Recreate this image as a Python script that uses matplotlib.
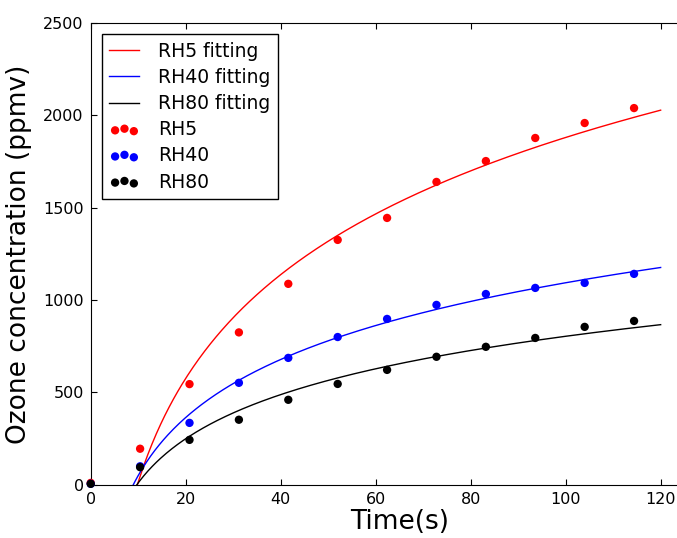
import numpy as np
import matplotlib
matplotlib.use('Agg')
import matplotlib.pyplot as plt

# sampling times (s)
t = [0, 10.4, 20.8, 31.2, 41.6, 52.0, 62.4, 72.8, 83.2, 93.6, 104.0, 114.4]

# measured ozone concentration (ppmv)
rh5 = [10, 195, 545, 825, 1088, 1326, 1445, 1640, 1753, 1878, 1959, 2040]
rh40 = [5, 100, 335, 552, 687, 800, 898, 974, 1033, 1066, 1093, 1142]
rh80 = [5, 95, 243, 352, 460, 546, 622, 693, 747, 795, 855, 887]

series = [('RH5', rh5, 'r'), ('RH40', rh40, 'b'), ('RH80', rh80, 'k')]

fig = plt.figure(figsize=(6.77, 5.38), dpi=100)
# axes run past the right edge of the figure
ax = fig.add_axes([0.134, 0.099, 0.912, 0.858])

tt = np.array(t)
xfit = np.linspace(1, 120, 400)
for name, y, c in series:
    # logarithmic fit y = a*ln(t) + b, skipping t = 0
    a, b = np.polyfit(np.log(tt[1:]), np.array(y)[1:], 1)
    ax.plot(xfit, a * np.log(xfit) + b, color=c, lw=1.0, label=name + ' fitting')

for name, y, c in series:
    ax.scatter(t, y, s=36, color=c, edgecolors='none', label=name, clip_on=False, zorder=3)

ax.set_xlim(0, 130)
ax.set_ylim(0, 2500)
ax.set_xticks([0, 20, 40, 60, 80, 100, 120])
ax.set_yticks([0, 500, 1000, 1500, 2000, 2500])
ax.tick_params(direction='in', top=True, right=True, labelsize=11.5, length=4, pad=5)
ax.set_xlabel('Time(s)', fontsize=19, labelpad=2)
ax.set_ylabel('Ozone concentration (ppmv)', fontsize=19, labelpad=8)

leg = ax.legend(loc='upper left', fontsize=13.5, scatterpoints=3,
                scatteryoffsets=[0.375, 0.5, 0.3125], handlelength=1.6,
                fancybox=False, framealpha=1, borderaxespad=0.6,
                labelspacing=0.38, handletextpad=1.0)
leg.get_frame().set_edgecolor('k')

fig.savefig('out.png', dpi=100)
